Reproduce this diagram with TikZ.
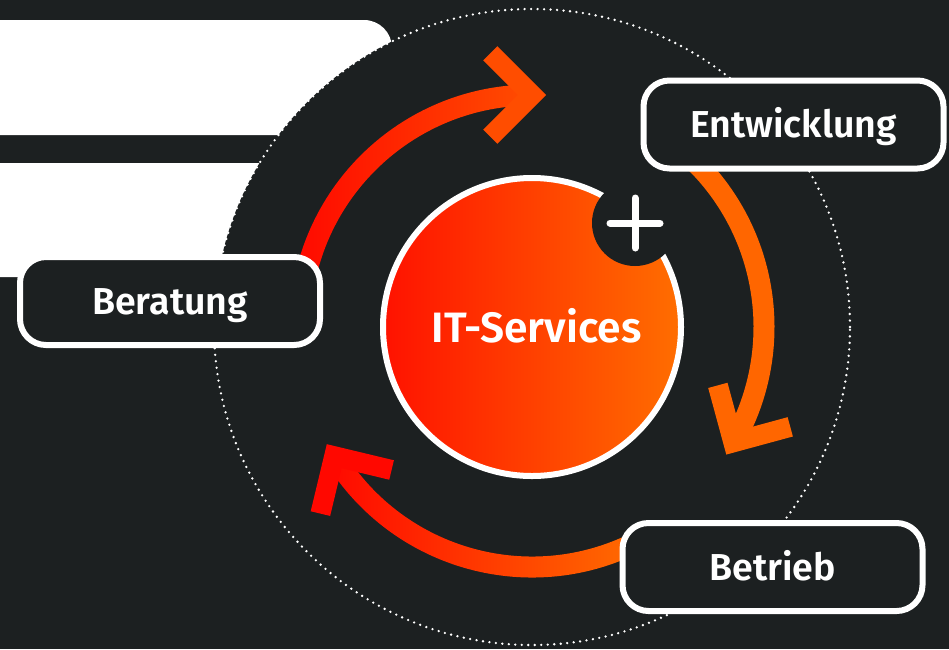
\documentclass[tikz,border=0pt]{standalone}
\usepackage{fontspec}
\setmainfont{Fira Sans}[BoldFont={Fira Sans SemiBold}]
\usepackage{tikz}
\usetikzlibrary{positioning}
\usetikzlibrary{calc}
\definecolor{bgdark}{HTML}{1C2021}
\definecolor{hotred}{HTML}{FF0800}
\definecolor{midorange}{HTML}{FF4D00}
\definecolor{deeporange}{HTML}{FF6600}
\definecolor{coreleft}{HTML}{FF1200}
\definecolor{coreright}{HTML}{FF6E00}
\tikzstyle{stagebox} = [rectangle, rounded corners=26pt, draw=white, line width=6pt, fill=bgdark, minimum width=300pt, minimum height=88pt, text=white, text height=26pt, text depth=0pt, font=\bfseries\fontsize{37.5}{40}\selectfont]
\tikzstyle{chevron} = [line width=20pt, line join=miter, line cap=butt]
\tikzstyle{flow} = [line width=21pt]

\begin{document}
\begin{tikzpicture}[x=1pt, y=1pt]
		\useasboundingbox (0,0) rectangle (949,-649);
		\fill[bgdark] (0,0) rectangle (949,-649);
		% white panels behind the ring
		\fill[white, rounded corners=28pt] (-40,-20) rectangle (392,-135);
		\fill[white, rounded corners=28pt] (-40,-163) rectangle (330,-277);
		% dotted ring
		\coordinate (mid) at (532,-327);
		\fill[bgdark] (mid) circle[radius=318];
		\draw[white, line width=2.6pt, line cap=round, dash pattern=on 0pt off 6.5pt] (mid) circle[radius=318];
		\node[circle, minimum size=298pt, draw=white, line width=6pt, left color=coreleft, right color=coreright] (itsvc) at (mid) {};
		\node[text=white, text height=31pt, text depth=0pt, font=\bfseries\fontsize{42.5}{46}\selectfont, xshift=4.5pt] (itlabel) at (itsvc.center) {IT-Services};
		\node[circle, fill=bgdark, minimum size=86pt, inner sep=0pt] (plus) at (635,-223) {};
		\draw[white, line width=7pt, line cap=round] ([xshift=-25pt]plus.center) -- ([xshift=25pt]plus.center);
		\draw[white, line width=7pt, line cap=round] ([yshift=-25pt]plus.center) -- ([yshift=25pt]plus.center);
		% Beratung -> Entwicklung
		\shade[left color=hotred, right color=midorange] ([shift={(175:221.5)}]itsvc.center) arc[start angle=175, end angle=90, radius=221.5] -- ([shift={(90:242.5)}]itsvc.center) arc[start angle=90, end angle=175, radius=242.5] -- cycle;
		\coordinate (tipA) at ([shift={(90:232)}]itsvc.center);
		\draw[chevron, midorange] ([shift={(135:59)}]tipA) -- (tipA) -- ([shift={(225:59)}]tipA);
		% Entwicklung -> Betrieb
		\draw[flow, deeporange] ([shift={(50:232)}]itsvc.center) arc[start angle=50, end angle=-29.8, radius=232];
		\coordinate (tipB) at ([shift={(-29.8:232)}]itsvc.center);
		\draw[chevron, deeporange] ([shift={(15.2:59)}]tipB) -- (tipB) -- ([shift={(105.2:59)}]tipB);
		% Betrieb -> Beratung
		\coordinate (botc) at ([yshift=-8pt]itsvc.center);
		\shade[left color=hotred, right color=coreright] ([shift={(-62:221.5)}]botc) arc[start angle=-62, end angle=-148.5, radius=221.5] -- ([shift={(-148.5:242.5)}]botc) arc[start angle=-148.5, end angle=-62, radius=242.5] -- cycle;
		\coordinate (tipC) at ([shift={(-148.5:232)}]botc);
		\draw[chevron, hotred] ([shift={(-103.5:59)}]tipC) -- (tipC) -- ([shift={(-13.5:59)}]tipC);
		% stages
		\node[stagebox, left=57pt of itsvc, yshift=26pt] (ber) {Beratung};
		\node[stagebox] (entw) at (793.5,-124.5) {Entwicklung};
		\node[stagebox] (betr) at (772.5,-567) {Betrieb};
	\end{tikzpicture}
\end{document}
